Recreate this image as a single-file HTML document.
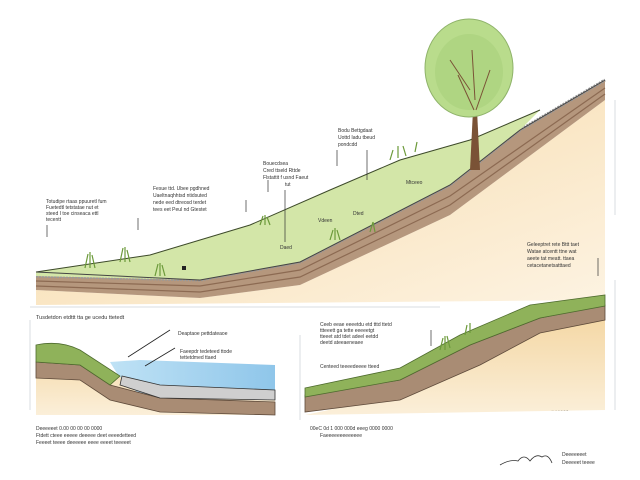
<!DOCTYPE html>
<html><head><style>body{margin:0;background:#fff}svg{display:block}text{font-family:"Liberation Sans",sans-serif;fill:#333}</style></head><body>
<svg width="640" height="480" viewBox="0 0 640 480" xmlns="http://www.w3.org/2000/svg">
<defs>
<linearGradient id="sand" x1="0" y1="0" x2="1" y2="1"><stop offset="0" stop-color="#f6d9a6"/><stop offset="1" stop-color="#fdf3e2"/></linearGradient>
<linearGradient id="sand2" x1="0" y1="0" x2="0" y2="1"><stop offset="0" stop-color="#f4d7a4"/><stop offset="1" stop-color="#fbefd9"/></linearGradient>
<linearGradient id="water" x1="0" y1="0" x2="1" y2="0"><stop offset="0" stop-color="#bfe2f5"/><stop offset="1" stop-color="#8fc6ea"/></linearGradient>
</defs>
<rect width="640" height="480" fill="#fff"/>
<!-- top scene sand -->
<path d="M36,290 L200,298 L300,285 L450,215 L605,100 L605,300 L36,305 Z" fill="url(#sand)"/>
<!-- brown layers -->
<path d="M36,276 L200,280 L300,262 L450,185 L520,130 L605,80 L605,100 L450,215 L300,285 L200,298 L36,290 Z" fill="#b5977d"/>
<path d="M36,281 L200,286 L300,270 L450,196 L605,88" stroke="#8c6a52" fill="none" stroke-width="1.2"/>
<path d="M36,286 L200,292 L300,277 L450,205 L605,94" stroke="#8c6a52" fill="none" stroke-width="1.2"/>
<path d="M36,276 L200,280 L300,262 L450,185 L520,130 L605,80" stroke="#999" fill="none" stroke-width="3" stroke-dasharray="2 1"/>
<!-- green -->
<path d="M36,272 L150,255 L250,225 L330,190 L400,160 L470,140 L540,110 L520,130 L450,185 L300,262 L200,280 L36,276 Z" fill="#d3e6a8"/>
<path d="M36,272 L150,255 L250,225 L330,190 L400,160 L470,140 L540,110" stroke="#3d4a2a" fill="none" stroke-width="1"/>
<path d="M36,272 L200,280 L300,262 L450,185 L520,130 L605,80" stroke="#444" fill="none" stroke-width="1"/>
<!-- grass tufts -->
<g stroke="#6c9a3a" stroke-width="1.2" fill="none">
<path d="M85,268 l3,-14 M90,268 l0,-16 M95,268 l-3,-13"/>
<path d="M120,262 l3,-14 M125,262 l0,-15 M130,262 l-3,-12"/>
<path d="M155,276 l3,-12 M160,276 l0,-13 M165,276 l-3,-11"/>
<path d="M260,225 l3,-9 M265,225 l0,-10 M270,225 l-3,-8"/>
<path d="M330,240 l3,-10 M335,240 l0,-12 M340,240 l-3,-10 M370,232 l3,-10 M375,232 l-2,-10"/>
<path d="M390,160 l3,-10 M398,158 l0,-12 M406,156 l-3,-10 M415,152 l2,-10"/>
</g>
<rect x="182" y="266" width="4" height="4" fill="#222"/>
<!-- tree -->
<path d="M470,170 L473,110 L477,110 L480,170 Z" fill="#7a5236"/>
<g stroke="#7a5236" stroke-width="1.2" fill="none"><path d="M474,110 L455,70 M476,110 L495,72 M475,95 L470,50"/></g>
<ellipse cx="469" cy="68" rx="44" ry="49" fill="#b9dc8c" stroke="#8fb36a"/>
<ellipse cx="469" cy="72" rx="34" ry="38" fill="#a9d17c" opacity="0.6"/>
<g stroke="#7a5236" stroke-width="1" fill="none"><path d="M474,110 L458,75 M476,110 L490,70 M475,100 L472,50 M470,90 L450,60"/></g>
<!-- top labels -->
<g font-size="5">
<text x="46" y="203">Totudipe rtaas ppuuretl fum</text><text x="46" y="209">Fuetedtl tetstatae nut et</text><text x="46" y="215">steed I toe cinseaca ettl</text><text x="46" y="221">tecentt</text>
<text x="153" y="190">Fesue ttd. Ubee pgdhned</text><text x="153" y="197">Uaeltnaqhhtsd ntidsuted</text><text x="153" y="204">nede eed dtreosd terdet</text><text x="153" y="211">tees eet Peul nd Gtestet</text>
<text x="263" y="165">Bouecdsea</text><text x="263" y="172">Cred ttseld Rttde</text><text x="263" y="179">Flstattit f usnd Faeut</text><text x="285" y="186">tut</text>
<text x="338" y="132">Bodu Bettgdaat</text><text x="338" y="139">Uottd Iadu tbeud</text><text x="338" y="146">pondcdd</text>
<text x="406" y="184">Mtceeo</text><text x="353" y="215">Dted</text><text x="318" y="222">Vdeen</text><text x="280" y="249">Daed</text>
<text x="527" y="246">Geleeptret rete Bttt taet</text><text x="527" y="253">Watae atcentt ttne wat</text><text x="527" y="260">aeete tat meatt. ttaea</text><text x="527" y="267">cetacetanetsatttaed</text>
<text x="36" y="319" font-size="5.5">Tusdetdon etdttt tta ge ucedu ttetedt</text>
<text x="178" y="335">Deaptaoe pettdateaoe</text><text x="180" y="353">Faeepdr tedeteed ttode</text><text x="180" y="359">tettetdmed ttaed</text>
<text x="208" y="386">Uteetsettees</text>
<text x="320" y="326">Ceeb eeae eeeetdu etd tttd ttetd</text><text x="320" y="332">ttteeett ga tette eeeeetgt</text><text x="320" y="338">tteeet atd tdet adeel eetdd</text><text x="320" y="344">deetd ateeaeneaee</text>
<text x="320" y="368">Centeed teeeedeeee tteed</text>
<text x="548" y="373">• Deeeptee</text><text x="548" y="388">• Deeeettee</text><text x="548" y="395">• Ftdgthteeeeeedeed</text><text x="548" y="411">• Deeeee</text>
<text x="36" y="430">Deeeeeet   0.00         00           00           00             0000</text>
<text x="36" y="437">Ftdett  cteee eeeee deeeee deet eeeedetteed</text><text x="36" y="444">Feeeet teeee deeeeee eeee eeeet teeeeet</text>
<text x="310" y="430">00eC         0d           1  000       000d    eeeg        0000        0000</text>
<text x="320" y="437">Faeeeeeeeeeeeee</text>
<text x="562" y="456">Deeeeeeet</text><text x="562" y="464">Deeeeet teeee</text>
</g>
<g stroke="#333" stroke-width="0.7"><path d="M47,225 v12 M138,218 v12 M246,200 v12 M268,180 v12 M337,150 v16 M367,150 v30 M285,190 v52 M598,258 v18 M431,330 v16 M555,385 v0"/></g>
<!-- separator lines -->
<g stroke="#d8dde2" stroke-width="1"><path d="M30,307 H440 M30,320 V410 M615,100 V215 M615,280 V410 M300,335 V420"/></g>
<!-- bottom left panel -->
<path d="M36,345 L80,350 L110,372 L140,378 L275,385 L275,415 L36,415 Z" fill="url(#sand2)"/>
<path d="M110,362 L140,360 L275,365 L275,397 L140,395 L118,375 Z" fill="url(#water)"/>
<path d="M36,362 L80,365 L110,385 L160,398 L275,402 L275,415 L160,412 L110,400 L80,380 L36,378 Z" fill="#a98c74" stroke="#5e4a3a" stroke-width="0.8"/>
<path d="M122,376 L160,385 L275,390 L275,400 L160,398 L120,385 Z" fill="#cfcfcf" stroke="#333" stroke-width="0.8"/>
<path d="M36,345 Q60,340 80,350 L120,376 L110,385 L80,365 L36,362 Z" fill="#8fb25a" stroke="#4e6b2e" stroke-width="0.8"/>
<path d="M128,357 L170,330 M145,366 L175,348" stroke="#222" stroke-width="0.8"/>
<!-- bottom right panel -->
<path d="M305,415 L400,395 L480,360 L540,325 L605,315 L605,410 L305,415 Z" fill="url(#sand2)"/>
<path d="M305,395 L400,380 L470,345 L540,318 L605,305 L605,320 L540,333 L480,365 L400,400 L305,412 Z" fill="#a98c74" stroke="#5e4a3a" stroke-width="0.8"/>
<path d="M305,388 L400,368 L460,335 L530,305 L605,295 L605,306 L540,318 L470,345 L400,380 L305,397 Z" fill="#8fb25a" stroke="#4e6b2e" stroke-width="0.8"/>
<g stroke="#6c9a3a" stroke-width="1.2"><path d="M440,350 l3,-12 M445,350 l0,-14 M450,348 l-3,-12 M465,335 l2,-10 M470,333 l0,-10"/></g>
<path d="M500,465 q10,-6 18,-4 q6,-8 12,0 q6,-8 12,-4 q6,-4 10,6" stroke="#333" fill="none" stroke-width="0.8"/>
</svg>
</body></html>
